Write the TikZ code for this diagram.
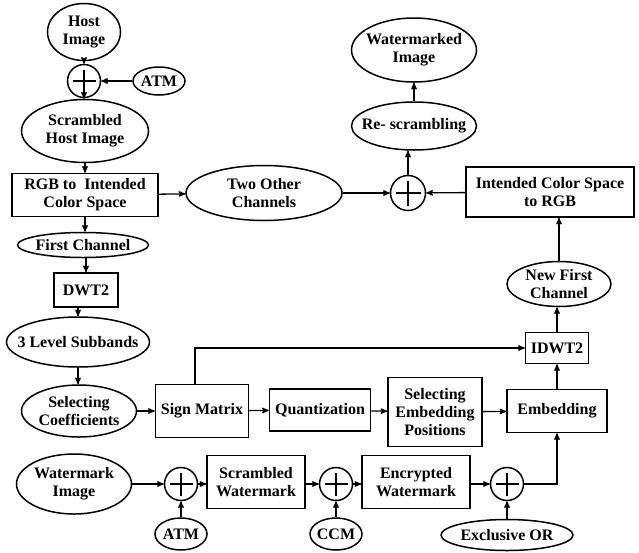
\documentclass[tikz,border=0pt]{standalone}
\usepackage{fontspec}
\setmainfont{Liberation Serif}
\usetikzlibrary{arrows,shapes.geometric,positioning,calc}

\begin{document}
\begin{tikzpicture}
%defines
  [x=1pt,y=-1pt,
every node/.style={font=\bfseries\fontsize{16}{18}\selectfont,align=center},
block/.style={rectangle,draw,line width=1.5pt,inner sep=1pt},
blob/.style={ellipse,draw,line width=1.5pt,inner xsep=-20pt,inner ysep=-10pt},
adder/.style={circle,draw,line width=1.5pt,inner sep=0pt,minimum size=33pt,
path picture={\draw[line width=1.5pt]
([yshift=-5pt]path picture bounding box.north) -- ([yshift=5pt]path picture bounding box.south)
([xshift=5pt]path picture bounding box.west) -- ([xshift=-5pt]path picture bounding box.east);}},
flow/.style={->,>=stealth',line width=1.3pt}]
\useasboundingbox (0,0) rectangle (639,552);
% left column
\node[blob,minimum width=73pt,minimum height=57pt] (hostimg) at (84,32) {Host\\Image};
\node[adder] (addtop) at (84,81) {};
\node[blob,minimum width=52pt,minimum height=28pt] (atmtop) at (159,81) {ATM};
\node[blob,minimum width=127pt,minimum height=63pt] (scrhost) at (85,131) {Scrambled\\Host Image};
\node[block,minimum width=146pt,minimum height=43pt] (rgb) at (85,195) {RGB to\ \ Intended\\Color Space};
\node[blob,minimum width=131pt,minimum height=25pt] (first) at (83,245) {First Channel};
\node[block,minimum width=64pt,minimum height=34pt] (dwt) at (86,290) {DWT2};
\node[blob,minimum width=143pt,minimum height=50pt] (subb) at (78,342) {3 Level Subbands};
\node[blob,minimum width=115pt,minimum height=52pt] (selcoef) at (79,411) {Selecting\\Coefficients};
% middle row
\node[block,minimum width=93pt,minimum height=53pt] (sign) at (202,411) {Sign Matrix};
\node[block,minimum width=101pt,minimum height=42pt] (quant) at (320,410) {Quantization};
\node[block,minimum width=94pt,minimum height=69pt] (selpos) at (435,412) {Selecting\\Embedding\\Positions};
\node[block,minimum width=100pt,minimum height=43pt] (embed) at (557,411) {Embedding};
% right column
\node[block,minimum width=63pt,minimum height=31pt] (idwt) at (557,348) {IDWT2};
\node[blob,minimum width=104pt,minimum height=45pt] (newfirst) at (559,284) {New First\\Channel};
\node[block,minimum width=168pt,minimum height=50pt] (torgb) at (550,192) {Intended Color Space\\to RGB};
\node[adder,minimum size=35pt] (addright) at (408,193) {};
\node[blob,minimum width=156pt,minimum height=55pt] (twoother) at (264,193) {Two Other\\Channels};
\node[blob,minimum width=125pt,minimum height=48pt] (rescr) at (414,126) {Re- scrambling};
\node[blob,minimum width=125pt,minimum height=64pt] (wmimg) at (414,50) {Watermarked\\Image};
% bottom row
\node[blob,minimum width=115pt,minimum height=60pt] (wmark) at (74,484) {Watermark\\Image};
\node[adder] (adda) at (181,484) {};
\node[blob,minimum width=52pt,minimum height=32pt] (atmbot) at (181,534) {ATM};
\node[block,minimum width=98pt,minimum height=53pt] (scrwm) at (256,482) {Scrambled\\Watermark};
\node[adder] (addb) at (336,484) {};
\node[blob,minimum width=52pt,minimum height=32pt] (ccm) at (336,534) {CCM};
\node[block,minimum width=108pt,minimum height=53pt] (encwm) at (416,482) {Encrypted\\Watermark};
\node[adder] (addc) at (507,484) {};
\node[blob,minimum width=132pt,minimum height=31pt] (xor) at (507,535) {Exclusive OR};
% connectors
\draw[flow] (hostimg) -- (addtop);
\draw[flow] (atmtop) -- (addtop);
\draw[flow] (addtop) -- (addtop |- scrhost.north);
\draw[flow] (scrhost) -- (rgb);
\draw[flow] (rgb) -- (twoother);
\draw[flow] (rgb) -- (rgb |- first.north);
\draw[flow] (first.south -| dwt.north) -- (dwt);
\draw[flow] (dwt.south -| subb.north) -- (subb);
\draw[flow] (subb) -- (subb |- selcoef.north);
\draw[flow] (selcoef) -- (sign);
\draw[flow] (sign) -- (quant);
\draw[flow] (quant) -- (selpos);
\draw[flow] (selpos) -- (embed);
\draw[flow] (embed) -- (idwt);
\draw[flow] ([xshift=-7pt]sign.north) |- (idwt);
\draw[flow] (idwt) -- (idwt |- newfirst.south);
\draw[flow] (newfirst) -- (newfirst |- torgb.south);
\draw[flow] (torgb) -- (addright);
\draw[flow] (twoother) -- (addright);
\draw[flow] (addright) -- (addright |- rescr.south);
\draw[flow] (rescr) -- (wmimg);
\draw[flow] (wmark) -- (adda);
\draw[flow] (atmbot) -- (adda);
\draw[flow] (adda) -- (adda -| scrwm.west);
\draw[flow] (scrwm.east |- addb) -- (addb);
\draw[flow] (ccm) -- (addb);
\draw[flow] (addb) -- (addb -| encwm.west);
\draw[flow] (encwm.east |- addc) -- (addc);
\draw[flow] (xor) -- (addc);
\draw[flow] (addc) -| (embed);
\end{tikzpicture}
\end{document}
